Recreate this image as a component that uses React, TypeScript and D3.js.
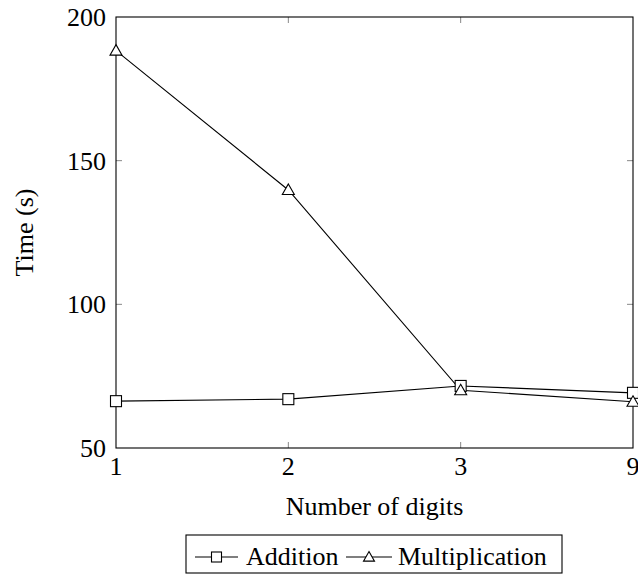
import React from 'react';
import { scalePoint, scaleLinear, line } from 'd3';

const digits = ['1', '2', '3', '9'];
const addition = [66.3, 67.0, 71.6, 69.2];
const multiplication = [188.3, 139.8, 70.1, 66.1];
const yTicks = [50, 100, 150, 200];

const font = 'Liberation Serif, Times New Roman, DejaVu Serif, serif';
const fs = 26;

const Square = ({ x, y, s = 5.5 }: { x: number; y: number; s?: number }) => (
  <rect x={x - s} y={y - s} width={2 * s} height={2 * s} fill="white" stroke="black" strokeWidth={1.1} />
);

const Triangle = ({ x, y, s = 6 }: { x: number; y: number; s?: number }) => (
  <path d={`M ${x} ${y - s} L ${x + s} ${y + s * 0.75} L ${x - s} ${y + s * 0.75} Z`} fill="white" stroke="black" strokeWidth={1.1} />
);

const App = () => {
  const width = 638;
  const height = 576;
  const margin = { top: 17, right: 5, bottom: 128, left: 116 };
  const x0 = margin.left;
  const x1 = width - margin.right;
  const y0 = height - margin.bottom;
  const y1 = margin.top;

  const xScale = scalePoint<string>().domain(digits).range([x0, x1]);
  const yScale = scaleLinear().domain([50, 200]).range([y0, y1]);

  const lineGen = line<number>()
    .x((_, i) => xScale(digits[i]) as number)
    .y(d => yScale(d));

  return (
    <div style={{ position: 'absolute', left: 0, top: 0 }}>
      <svg width={width} height={height} style={{ display: 'block' }}>
        {yTicks.slice(1, -1).map(t => (
          <g key={t}>
            <line x1={x0} x2={x0 + 6} y1={yScale(t)} y2={yScale(t)} stroke="#888" />
            <line x1={x1} x2={x1 - 6} y1={yScale(t)} y2={yScale(t)} stroke="#888" />
          </g>
        ))}
        {digits.slice(1, -1).map(d => (
          <g key={d}>
            <line x1={xScale(d)} x2={xScale(d)} y1={y0} y2={y0 - 6} stroke="#888" />
            <line x1={xScale(d)} x2={xScale(d)} y1={y1} y2={y1 + 6} stroke="#888" />
          </g>
        ))}
        <rect x={x0} y={y1} width={x1 - x0} height={y0 - y1} fill="none" stroke="black" strokeWidth={1.1} />

        {yTicks.map(t => (
          <text key={t} x={x0 - 10} y={yScale(t) + 9} textAnchor="end" fontSize={fs} fontFamily={font}>{t}</text>
        ))}
        {digits.map(d => (
          <text key={d} x={xScale(d)} y={y0 + 27} textAnchor="middle" fontSize={fs} fontFamily={font}>{d}</text>
        ))}

        <text x={(x0 + x1) / 2} y={515} textAnchor="middle" fontSize={fs} fontFamily={font}>Number of digits</text>
        <text transform={`translate(33, ${(y0 + y1) / 2}) rotate(-90)`} textAnchor="middle" fontSize={fs} fontFamily={font}>Time (s)</text>

        <path d={lineGen(addition) || ''} fill="none" stroke="black" strokeWidth={1.1} />
        <path d={lineGen(multiplication) || ''} fill="none" stroke="black" strokeWidth={1.1} />
        {addition.map((v, i) => <Square key={'a' + i} x={xScale(digits[i]) as number} y={yScale(v)} />)}
        {multiplication.map((v, i) => <Triangle key={'m' + i} x={xScale(digits[i]) as number} y={yScale(v)} />)}

        {/* legend */}
        <g>
          <rect x={186} y={535} width={376} height={38} fill="white" stroke="black" strokeWidth={1.1} />
          <line x1={195} x2={238} y1={557} y2={557} stroke="black" strokeWidth={1.1} />
          <Square x={216.5} y={557} s={5} />
          <text x={246} y={565} fontSize={fs} fontFamily={font}>Addition</text>
          <line x1={346} x2={392} y1={557} y2={557} stroke="black" strokeWidth={1.1} />
          <Triangle x={369} y={557} s={5.5} />
          <text x={398} y={565} fontSize={fs} fontFamily={font}>Multiplication</text>
        </g>
      </svg>
    </div>
  );
};

export default App;
